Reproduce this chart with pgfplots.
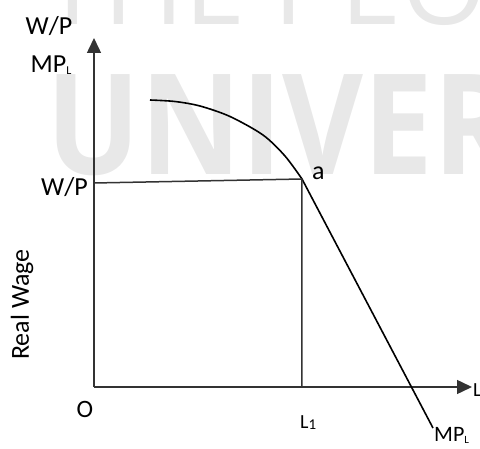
\documentclass[border=0pt]{standalone}
\usepackage{fontspec}
\setmainfont{Carlito}
\newfontfamily\wm{Open Sans}
\usepackage{pgfplots}
\pgfplotsset{compat=1.18}
\usetikzlibrary{arrows.meta}
\definecolor{axgray}{HTML}{333333}
\definecolor{wmgray}{HTML}{E8E8E8}
\begin{document}
\begin{tikzpicture}
\useasboundingbox (-94pt,-61pt) rectangle (386pt,387pt);
\clip (-94pt,-61pt) rectangle (386pt,387pt);
% watermark
\node[anchor=base west, inner sep=0pt, text=wmgray, font=\wm\fontsize{110}{110}\selectfont] at (-52pt,362pt) {THE PEOPLE'S};
\node[anchor=base west, inner sep=0pt, text=wmgray, font=\wm\bfseries\fontsize{140}{140}\selectfont] at (-48pt,212pt) {\scalebox{0.89}[1]{UNIVERSITY}};
\begin{axis}[
  at={(0pt,0pt)}, anchor=origin,
  x=1pt, y=1pt,
  xmin=0, xmax=378, ymin=0, ymax=349,
  enlargelimits=false,
  axis lines=left,
  axis line style={axgray, line width=1.5pt, -{Triangle[width=14pt,length=15pt]}},
  xtick=\empty, ytick=\empty,
  clip=false,
]
\addplot[black, line width=1.6pt, smooth, tension=0.5] coordinates {
  (56,287) (81,285.5) (106,281) (136,270.5) (169,252) (191,231) (208,208)
};
\addplot[black, line width=1.6pt] coordinates {(208,208) (339,-41)};
\addplot[axgray, line width=1.5pt] coordinates {(0,204) (208,208) (208,0)};
\node[anchor=base, font=\fontsize{26}{30}\selectfont] at (axis cs:-45,352) {W/P};
\node[anchor=base, font=\fontsize{26}{30}\selectfont] at (axis cs:-43,314) {MP\raisebox{-2pt}{\fontsize{12}{12}\selectfont L}};
\node[anchor=base east, inner sep=0pt, font=\fontsize{26}{30}\selectfont] at (axis cs:-6,192) {W/P};
\node[rotate=90, font=\fontsize{26}{30}\selectfont] at (axis cs:-72,82.5) {Real Wage};
\node[font=\fontsize{25}{30}\selectfont] at (axis cs:-9,-22) {O};
\node[anchor=base west, inner sep=0pt, font=\fontsize{20}{24}\selectfont] at (axis cs:206,-41) {L\raisebox{-1pt}{\fontsize{15}{15}\selectfont 1}};
\node[anchor=base west, inner sep=0pt, font=\fontsize{20}{24}\selectfont] at (axis cs:379,-9) {L};
\node[anchor=base west, inner sep=0pt, font=\fontsize{22}{24}\selectfont] at (axis cs:340,-54) {MP\raisebox{-2pt}{\fontsize{11}{11}\selectfont L}};
\node[anchor=base west, inner sep=0pt, font=\fontsize{26}{30}\selectfont] at (axis cs:218,207) {a};
\end{axis}
\end{tikzpicture}
\end{document}
